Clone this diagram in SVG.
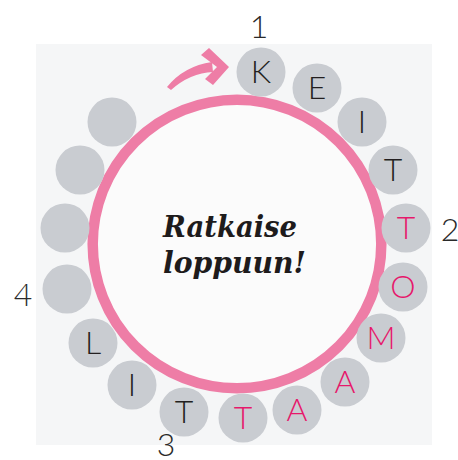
<svg xmlns="http://www.w3.org/2000/svg" width="458" height="460" viewBox="0 0 458 460">
  <style>
    .bead { fill: #c9ccd1; }
    .ch { font-family: "Lato", "Liberation Sans", sans-serif; font-weight: 300; font-size: 32px; text-anchor: middle; fill: #231f20; }
    .pk { fill: #e6186b; }
    .num { font-family: "Lato", "Liberation Sans", sans-serif; font-weight: 300; font-size: 32px; text-anchor: middle; fill: #2a2a2a; }
    .title { font-family: "DejaVu Serif", "Liberation Serif", serif; font-weight: bold; font-style: italic; font-size: 29px; fill: #1e1b1c; }
  </style>

  <!-- backdrop panel -->
  <rect x="36" y="44" width="396" height="401" fill="#f5f6f7"/>

  <!-- ring -->
  <g id="ring">
    <circle cx="237" cy="244" r="144.3" fill="#fbfbfb" stroke="#ee7da6" stroke-width="10.5"/>
    <text class="title" x="163" y="237" textLength="134" lengthAdjust="spacingAndGlyphs">Ratkaise</text>
    <text class="title" x="163" y="273" textLength="143" lengthAdjust="spacingAndGlyphs">loppuun!</text>
  </g>

  <!-- direction arrow -->
  <g id="connectors">
    <path d="M167,87 Q184,66 212,62 L213,72 Q190,73 171,90 Z" fill="#ee7da6"/>
    <path d="M201,55 L209,48 L229,67 L213,85 L205,79 L217,67 Z" fill="#ee7da6"/>
  </g>

  <!-- beads, clockwise from the top -->
  <g id="b1"><circle class="bead" cx="261" cy="72" r="24.5"/><text class="ch" x="261" y="83">K</text></g>
  <g id="b2"><circle class="bead" cx="317" cy="88" r="24.5"/><text class="ch" x="317" y="99">E</text></g>
  <g id="b3"><circle class="bead" cx="362" cy="122" r="24.5"/><text class="ch" x="362" y="133">I</text></g>
  <g id="b4"><circle class="bead" cx="393" cy="170" r="24.5"/><text class="ch" x="393" y="181">T</text></g>
  <g id="b5"><circle class="bead" cx="406" cy="228" r="24.5"/><text class="ch pk" x="406" y="239">T</text></g>
  <g id="b6"><circle class="bead" cx="403" cy="287" r="24.5"/><text class="ch pk" x="403" y="298">O</text></g>
  <g id="b7"><circle class="bead" cx="381" cy="338" r="24.5"/><text class="ch pk" x="381" y="349">M</text></g>
  <g id="b8"><circle class="bead" cx="345" cy="382" r="24.5"/><text class="ch pk" x="345" y="393">A</text></g>
  <g id="b9"><circle class="bead" cx="297" cy="410" r="24.5"/><text class="ch pk" x="297" y="421">A</text></g>
  <g id="b10"><circle class="bead" cx="243" cy="418" r="24.5"/><text class="ch pk" x="243" y="429">T</text></g>
  <g id="b11"><circle class="bead" cx="184" cy="412" r="24.5"/><text class="ch" x="184" y="423">T</text></g>
  <g id="b12"><circle class="bead" cx="132" cy="385" r="24.5"/><text class="ch" x="132" y="396">I</text></g>
  <g id="b13"><circle class="bead" cx="93" cy="343" r="24.5"/><text class="ch" x="93" y="354">L</text></g>
  <g id="b14"><circle class="bead" cx="67" cy="289" r="24.5"/></g>
  <g id="b15"><circle class="bead" cx="65" cy="228" r="24.5"/></g>
  <g id="b16"><circle class="bead" cx="80" cy="170" r="24.5"/></g>
  <g id="b17"><circle class="bead" cx="112" cy="122" r="24.5"/></g>

  <!-- position numbers -->
  <g id="labels">
    <text class="num" x="259" y="38">1</text>
    <text class="num" x="450" y="241">2</text>
    <text class="num" x="166" y="456">3</text>
    <text class="num" x="23" y="306">4</text>
  </g>
</svg>
